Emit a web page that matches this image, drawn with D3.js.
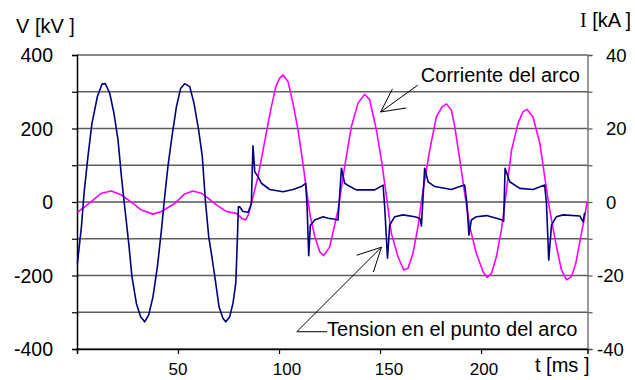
<!DOCTYPE html>
<html>
<head>
<meta charset="utf-8">
<script src="https://cdn.jsdelivr.net/npm/d3@7"></script>
<style>
  body { margin: 0; background: #fff; }
  svg text { font-family: Arial, "Liberation Sans", sans-serif; fill: #000; }
</style>
</head>
<body>
<svg id="chart" width="635" height="380"></svg>
<script>
// Voltage at the arc point: time (ms) and value (kV)
const voltageTime = [0.2, 2.2, 3.5, 5.4, 7.4, 10.1, 12.4, 14, 16.2, 18.3, 20.3, 22, 23.6, 25.6, 27.2, 29.4, 31.5, 33.5, 35.5, 37.6,
  39.8, 41.8, 43.4, 45, 47, 49.2, 51.3, 53.3, 55.8, 57.9, 60.2, 62, 63.6, 65.2, 66.8, 68.4, 70.3, 72.3, 73.6, 75.6,
  77.2, 78.6, 79.2, 79.9, 80.5, 82.2, 84.7, 86.3, 87.1, 88, 89.6, 91.3, 95.4, 102, 106.9, 111.1, 113.2, 113.9, 114.7, 115.5,
  117.7, 121.8, 124.3, 127.6, 129.2, 130.9, 132.5, 134.2, 138.3, 147.4, 151.5, 152.3, 153.7, 154.8, 157.3, 161.4, 167.2, 169.7, 170.5, 172.1,
  173.8, 177.1, 185.3, 189.5, 191.9, 193, 194, 195.2, 197.7, 202.7, 207.6, 210.6, 211.2, 211.9, 214.2, 219.2, 225.7, 231.5, 232.4, 233.5,
  234.9, 237.3, 240.6, 248.9, 250.5, 251.3];
const voltageKV = [-167, -67, 24, 123, 214, 287, 321, 322, 296, 241, 169, 69, -13, -112, -203, -276, -312, -326, -307, -258,
  -176, -76, 14, 96, 178, 259, 309, 322, 314, 269, 196, 125, 0, -94, -150, -210, -285, -317, -326, -312,
  -276, -221, -131, -13, -13, -26, -28, -4, 153, 82, 69, 51, 34, 28, 34, 42, 51, -13, -146, -63,
  -49, -40, -44, -47, -49, 92, 51, 45, 33, 33, 46, -13, -153, -63, -40, -35, -40, -44, -65, 92,
  55, 42, 34, 42, 46, -4, -90, -49, -40, -37, -44, -49, -53, 92, 55, 37, 34, 46, -4, -158,
  -63, -40, -35, -38, -54, -29];

// Arc current: time (ms) and value (kA)
const currentTime = [0.2, 3.8, 7.9, 12.1, 17, 22, 27.7, 31.9, 37.6, 41.8, 48.4, 53.3, 57.4, 61.5, 64.1, 69, 74, 78.9, 81.4, 83.5,
  85.1, 87.1, 89.6, 92.1, 94.6, 96.2, 98.4, 100.3, 102, 104.5, 106.9, 109.4, 111.6, 113.6, 115.5, 117.7, 120.1, 122.1, 125.1, 129.2,
  132.5, 135.8, 139.1, 142.4, 144.9, 148.2, 150.7, 153.2, 155.6, 158.9, 161.7, 163.9, 166.3, 168.8, 171.3, 174.6, 177.9, 180.7, 182.9, 185.3,
  187, 189.5, 191.9, 194.4, 197.7, 201, 203, 205.2, 207.6, 210.1, 212.6, 215.1, 218.3, 220.8, 222.8, 225.7, 229.1, 231.5, 234, 237,
  239.8, 242.3, 244.8, 246.9, 249.4, 251.3, 252.5];
const currentKA = [-2.8, -1.3, 0.5, 2.4, 3.0, 1.9, -0.4, -2.2, -3.3, -2.6, -0.4, 2.2, 3.0, 2.4, 1.4, -0.8, -2.6, -3.1, -4.4, -4.9,
  -3.1, 1.4, 6.9, 14.1, 21.4, 25.9, 31.4, 33.7, 34.6, 32.7, 26.9, 19.6, 11.4, 3.3, -4.0, -9.4, -13.5, -14.6, -12.2, -2.2,
  9.6, 20.5, 26.9, 29.3, 27.8, 19.6, 11.4, 1.4, -8.5, -14.9, -18.5, -18, -14, -6.7, 3.3, 14.1, 23.2, 25.9, 26.7, 25,
  20.5, 11.4, 2.4, -6.7, -14, -19, -20.5, -19.4, -14.9, -7.6, 3.3, 14.1, 21.4, 24.6, 25.2, 23.2, 16, 6.9, -2.2, -11.2,
  -18.5, -21.2, -20.3, -16.7, -9.4, -4, 0.1];

// Axis ticks and labels
const timeTicks = [50, 100, 150, 200];
const voltageGrid = [-400, -300, -200, -100, 0, 100, 200, 300, 400];
const voltageLabels = [-400, -200, 0, 200, 400];
const currentLabels = [-40, -20, 0, 20, 40];

const svg = d3.select("#chart");
const plotLeft = 77, plotRight = 587.5, plotTop = 55, plotBottom = 349;

const x = d3.scaleLinear().domain([0, 252.7]).range([plotLeft, plotRight]);
const yV = d3.scaleLinear().domain([-400, 400]).range([plotBottom, plotTop]);
const yI = d3.scaleLinear().domain([-40, 40]).range([plotBottom, plotTop]);

// Horizontal grid lines every 100 kV (zero line in black)
svg.append("g").selectAll("line").data(voltageGrid).join("line")
  .attr("x1", plotLeft).attr("x2", plotRight)
  .attr("y1", d => yV(d)).attr("y2", d => yV(d))
  .attr("stroke", d => d === 0 ? "#000" : "#5e5e5e")
  .attr("stroke-width", d => d === 0 ? 1.2 : 1.4);

// Left voltage axis
const axL = svg.append("g").attr("transform", `translate(${plotLeft},0)`)
  .call(d3.axisLeft(yV).tickValues(voltageGrid).tickSize(5).tickFormat(""));
axL.select(".domain").attr("stroke", "#000").attr("stroke-width", 1.5);
axL.selectAll(".tick line").attr("stroke", "#000").attr("stroke-width", 1.2);
svg.append("g").selectAll("text").data(voltageLabels).join("text")
  .attr("x", 53).attr("y", d => yV(d)).attr("dy", "0.36em")
  .attr("text-anchor", "end").attr("font-size", 19.5)
  .text(d => d);

// Right current axis
const axR = svg.append("g").attr("transform", `translate(${plotRight},0)`)
  .call(d3.axisRight(yI).tickValues(d3.range(-40, 41, 10)).tickSize(5).tickFormat(""));
axR.select(".domain").attr("stroke", "#7a7a7a").attr("stroke-width", 1.5);
axR.selectAll(".tick line").attr("stroke", "#555").attr("stroke-width", 1.2);
svg.append("g").selectAll("text").data(currentLabels).join("text")
  .attr("x", d => d < 0 ? 597 : 606).attr("y", d => yI(d)).attr("dy", "0.36em")
  .attr("text-anchor", "start").attr("font-size", 18.5)
  .text(d => d);

// Bottom time axis (labels sit slightly right of some ticks)
const axB = svg.append("g").attr("transform", `translate(0,${plotBottom})`)
  .call(d3.axisBottom(x).tickValues(timeTicks).tickSize(5).tickFormat(""));
axB.select(".domain").attr("stroke", "#000").attr("stroke-width", 1.5);
axB.selectAll(".tick line").attr("stroke", "#000").attr("stroke-width", 1.2);
const labelNudge = { 50: 0, 100: 8, 150: 9, 200: 3 };
svg.append("g").selectAll("text").data(timeTicks).join("text")
  .attr("x", d => x(d) + labelNudge[d]).attr("y", 375)
  .attr("text-anchor", "middle").attr("font-size", 17)
  .text(d => d);

// Data curves
const lineV = d3.line().x((d, i) => x(voltageTime[i])).y(d => yV(d));
const lineI = d3.line().x((d, i) => x(currentTime[i])).y(d => yI(d));

svg.append("path").datum(currentKA).attr("d", lineI)
  .attr("fill", "none").attr("stroke", "#ff00ff").attr("stroke-width", 1.6)
  .attr("stroke-linejoin", "round");
svg.append("path").datum(voltageKV).attr("d", lineV)
  .attr("fill", "none").attr("stroke", "#000080").attr("stroke-width", 1.6)
  .attr("stroke-linejoin", "round");

// Axis titles
svg.append("text").attr("x", 16).attr("y", 33).attr("font-size", 20).text("V [kV ]");
const iTitle = svg.append("text").attr("x", 580).attr("y", 27).attr("font-size", 20);
iTitle.append("tspan").attr("font-family", "'Times New Roman', 'Liberation Serif', serif").text("I");
iTitle.append("tspan").text(" [kA ]");
svg.append("text").attr("x", 535).attr("y", 372).attr("font-size", 20).text("t [ms ]");

// Annotations with open arrowheads
function arrow(tail, tip) {
  const ang = Math.atan2(tail[1] - tip[1], tail[0] - tip[0]);
  const len = 26, spread = 27 * Math.PI / 180;
  const g = svg.append("g").attr("stroke", "#000").attr("stroke-width", 1).attr("fill", "none");
  g.append("line").attr("x1", tail[0]).attr("y1", tail[1]).attr("x2", tip[0]).attr("y2", tip[1]);
  [-spread, spread].forEach(s => {
    g.append("line").attr("x1", tip[0]).attr("y1", tip[1])
      .attr("x2", tip[0] + len * Math.cos(ang + s)).attr("y2", tip[1] + len * Math.sin(ang + s));
  });
}

// "Corriente del arco" label and arrow
arrow([x(168.7), yV(318)], [x(150.3), yV(245)]);
svg.append("text").attr("x", x(170.2)).attr("y", yV(326.5))
  .attr("font-size", 20).text("Corriente del arco");

// "Tension en el punto del arco" label and leader
arrow([x(108.8), yV(-353)], [x(150.7), yV(-123)]);
svg.append("line").attr("x1", x(108.8)).attr("y1", yV(-353)).attr("x2", x(123.8)).attr("y2", yV(-353))
  .attr("stroke", "#000").attr("stroke-width", 1);
svg.append("text").attr("x", x(123.8)).attr("y", yV(-364))
  .attr("font-size", 20).text("Tension en el punto del arco");
</script>
</body>
</html>
